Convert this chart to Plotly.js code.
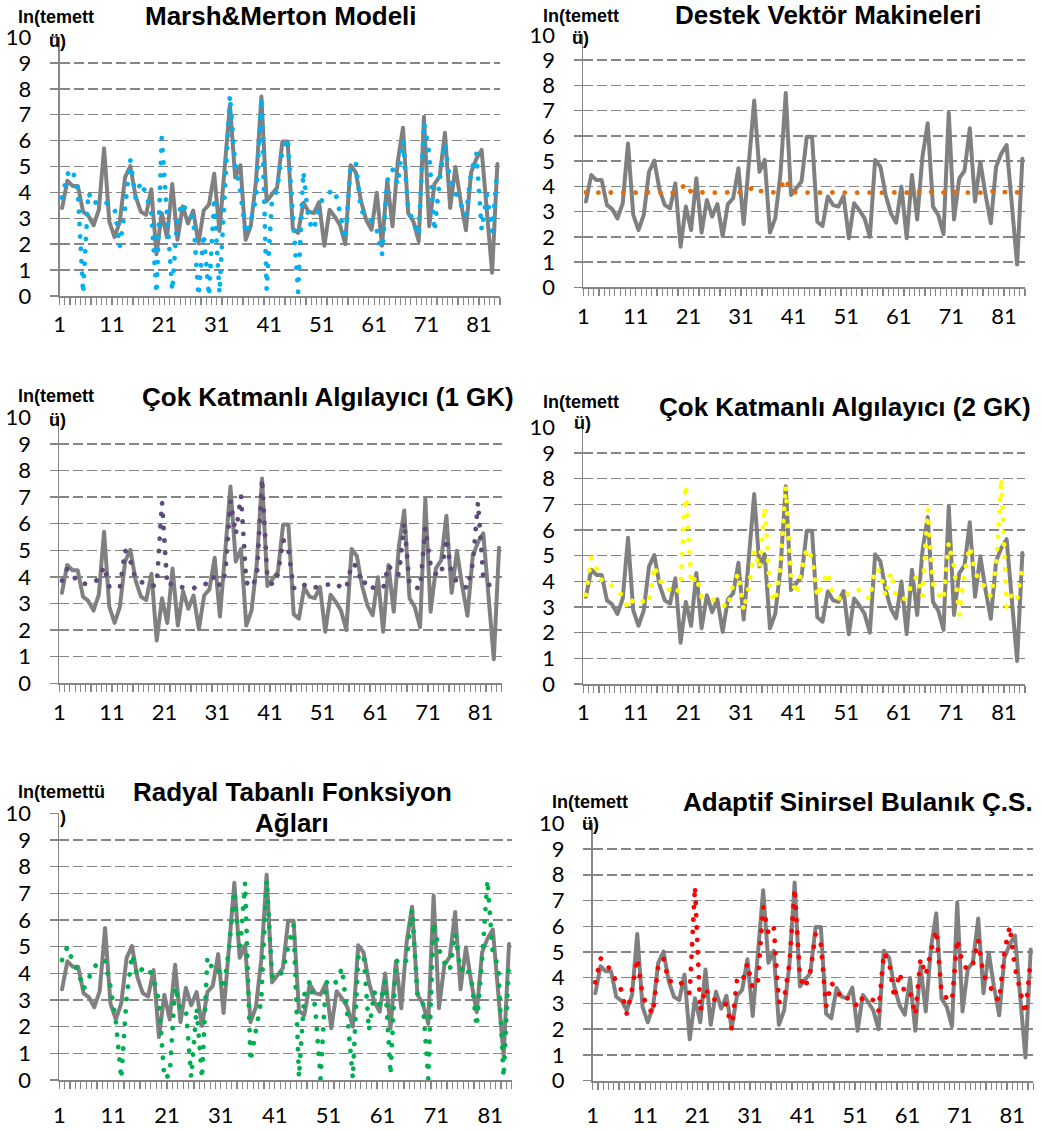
<!DOCTYPE html>
<html><head><meta charset="utf-8">
<script src="https://cdn.plot.ly/plotly-3.0.1.min.js"></script>
<style>
html,body{margin:0;padding:0;background:#fff;}
#chart{width:1041px;height:1130px;}
.scatterlayer .js-line{stroke-linecap:round;stroke-linejoin:round;}
</style></head><body><div id="chart"></div>
<script>
// Actual series ln(temettü), 84 observations
const actual = [3.4,4.45,4.25,4.25,3.26,3.1,2.73,3.33,5.7,2.87,
  2.27,2.87,4.58,5.02,3.86,3.26,3.13,4.12,1.61,3.2,
  2.27,4.32,2.17,3.46,2.8,3.3,2.03,3.3,3.53,4.72,
  2.51,4.9,7.4,4.58,5.05,2.17,2.73,4.5,7.7,3.66,
  3.92,4.19,5.97,5.97,2.6,2.43,3.6,3.26,3.2,3.62,
  1.94,3.33,3.06,2.73,2.0,5.05,4.78,3.66,2.93,2.56,
  3.99,1.94,4.45,2.69,5.18,6.5,3.2,2.87,2.11,6.92,
  2.69,4.32,4.62,6.3,3.4,4.98,3.66,2.54,4.78,5.3,
  5.64,3.4,0.9,5.1];

const marshMerton = [3.8,4.7,4.9,4.0,0.1,4.0,3.55,3.7,3.65,3.5,
  3.4,1.9,3.4,5.25,3.8,4.4,3.95,3.2,0.1,6.1,
  3.1,0.2,3.1,3.6,3.1,3.05,0.0,2.4,0.0,3.8,
  0.1,3.9,7.75,5.1,4.0,2.4,2.9,3.8,7.65,0.25,
  3.6,4.1,5.6,6.1,3.1,0.15,4.8,2.9,2.55,3.45,
  3.9,4.0,4.1,3.2,2.2,5.0,5.15,3.25,3.2,2.9,
  2.55,1.6,4.45,4.9,4.3,6.0,3.3,2.9,2.35,6.7,
  5.5,2.5,4.5,5.9,4.4,4.0,3.55,3.1,4.8,5.5,
  2.55,3.9,2.5,4.9];

const svm = [3.76,3.75,3.76,3.75,3.75,3.76,3.75,3.76,3.75,3.76,
  3.75,3.76,3.75,3.76,3.75,3.76,3.75,3.76,3.9,4.1,
  3.78,3.76,3.75,3.76,3.75,3.76,3.75,3.76,3.75,3.76,
  3.76,3.85,4.0,3.82,3.78,3.76,3.76,3.95,4.3,3.8,
  3.76,3.75,3.76,3.75,3.76,3.75,3.76,3.75,3.76,3.75,
  3.76,3.75,3.76,3.75,3.76,3.76,3.75,3.76,3.75,3.76,
  3.75,3.76,3.75,3.76,3.78,3.82,3.76,3.75,3.76,3.83,
  3.77,3.76,3.75,3.76,3.76,3.75,3.76,3.78,3.82,3.77,
  3.76,3.75,3.76,3.76];

const mlp1 = [3.86,4.3,4.1,3.8,3.75,3.73,3.8,3.92,4.4,3.63,
  3.6,3.6,5.0,4.6,3.9,3.8,3.75,3.65,3.7,6.8,
  3.66,3.76,3.65,3.6,3.6,3.57,3.7,3.75,3.7,4.05,
  3.66,4.1,6.85,5.6,7.05,3.8,3.6,4.0,7.7,4.0,
  3.7,4.1,5.4,5.0,3.57,3.75,3.7,3.57,3.6,3.66,
  3.7,3.72,3.76,3.6,3.56,4.5,4.4,3.7,3.86,3.6,
  3.6,3.57,4.45,4.1,4.1,6.05,3.7,3.6,3.57,5.85,
  4.45,4.1,4.05,5.45,4.1,3.82,3.7,3.57,4.5,6.8,
  4.0,3.7,3.7,3.85];

const mlp2 = [3.47,4.92,4.5,4.05,4.03,3.8,3.6,3.45,2.95,3.27,
  3.35,3.2,3.14,4.6,4.0,3.95,3.6,3.5,3.8,7.75,
  3.9,4.2,3.4,3.35,3.3,3.18,3.1,2.97,3.9,4.3,
  2.86,3.8,5.2,4.5,6.9,3.6,3.2,4.6,7.7,4.2,
  3.5,4.45,5.28,4.9,3.4,3.9,4.35,3.43,3.35,3.27,
  3.6,3.63,3.66,3.5,3.3,4.5,4.38,3.4,4.35,3.4,
  3.3,3.35,3.95,4.2,3.4,6.8,3.9,3.5,3.27,5.5,
  4.6,2.7,4.3,5.35,4.4,3.9,3.8,3.4,4.6,8.0,
  3.0,3.5,3.27,4.6];

const rbf = [4.5,5.0,4.45,4.06,3.4,3.8,4.25,4.4,4.5,3.5,
  2.2,0.05,3.1,4.7,3.9,4.2,4.2,3.8,2.95,0.05,
  0.2,3.5,2.65,2.65,0.1,2.7,0.06,4.6,4.15,4.2,
  3.4,4.9,7.1,4.8,7.4,0.7,1.9,3.0,7.5,3.9,
  3.8,4.1,5.0,5.8,0.1,3.2,3.7,2.75,0.05,3.7,
  3.5,3.7,4.2,2.4,0.06,4.6,4.75,1.85,3.3,2.8,
  3.7,0.2,4.5,4.3,4.5,6.4,3.2,2.9,0.05,5.9,
  4.9,4.4,4.1,5.5,4.1,4.3,3.8,2.0,4.5,7.5,
  4.7,4.3,0.1,4.5];

const anfis = [3.82,4.75,4.6,4.2,3.85,3.5,2.6,3.55,4.75,3.3,
  2.87,2.6,4.5,4.75,3.85,3.9,3.9,3.6,3.4,7.55,
  2.7,3.6,3.15,3.15,3.1,2.95,2.0,3.9,3.8,4.56,
  3.59,3.9,6.76,5.73,6.0,3.05,3.16,4.56,7.47,4.02,
  3.6,4.27,5.7,5.3,2.9,3.8,3.55,3.13,3.2,3.2,
  2.85,3.25,3.2,3.13,2.72,4.97,4.62,3.2,4.2,3.4,
  3.45,2.55,4.75,4.1,5.05,5.85,3.42,3.2,3.1,5.5,
  4.56,4.3,4.53,5.47,4.1,3.8,3.33,3.1,5.0,6.0,
  4.4,3.4,2.6,4.75];

const xTickVals = [1,11,21,31,41,51,61,71,81];
const xTickText = ['1','11','21','31','41','51','61','71','81'];
const yTickVals = [0,1,2,3,4,5,6,7,8,9,10];
const titles = [['Marsh&Merton Modeli'],['Destek Vektör Makineleri'],['Çok Katmanlı Algılayıcı (1 GK)'],
  ['Çok Katmanlı Algılayıcı (2 GK)'],['Radyal Tabanlı Fonksiyon','Ağları'],['Adaptif Sinirsel Bulanık Ç.S.']];
const yLabels = [['ln(temett','ü)'],['ln(temett','ü)'],['ln(temett','ü)'],['ln(temett','ü)'],['ln(temettü',')'],['ln(temett','ü)']];
const predicted = [marshMerton, svm, mlp1, mlp2, rbf, anfis];
const predColors = ['#00B0F0','#E46C0A','#604A7B','#FFFF00','#00B050','#FF0000'];

const obs = actual.map((_, i) => i + 1);
// tick marks sit on category boundaries (Excel style); the label of a boundary is
// the category just to its right, shifted by half a category so it is centred.
const catEdges = [0].concat(obs).map(v => v - 0.5 + 1);
const edgeText = catEdges.map(e => {
  const j = xTickVals.indexOf(e + 0.5);
  return j >= 0 ? xTickText[j] : '';
});

// layout geometry (pixels)
const W = 1041, H = 1130;
const boxes = [
  {x0:59.5, x1:500, y0:37, y1:296, xs:1,
   t:[[281,16.5]], l1:[16,17.5], l2:[47,41]},
  {x0:583.3, x1:1025, y0:35, y1:287.3, xs:1,
   t:[[828,15]], l1:[540.7,15.5], l2:[570,38]},
  {x0:59.3, x1:501.7, y0:417.3, y1:683.3, xs:1,
   t:[[328,396.5]], l1:[16,396], l2:[46.7,420]},
  {x0:583.3, x1:1025, y0:427.3, y1:684, xs:1,
   t:[[845,406.7]], l1:[540.7,401.7], l2:[571.7,423]},
  {x0:59.3, x1:511.7, y0:813.3, y1:1080, xs:8,
   t:[[292,791.7],[292,822.5]], l1:[16,791.7], l2:[58.3,816.7]},
  {x0:592.7, x1:1033.3, y0:823.3, y1:1080.7, xs:7,
   t:[[857.7,802]], l1:[550,801.7], l2:[580,824]}
];

const gridCol = '#868686';
const tickFont = {family:'Lato, "Open Sans", sans-serif', size:22, color:'#000'};
const data = [];
const layout = {
  width: W, height: H, margin:{l:0,r:0,t:0,b:0},
  paper_bgcolor:'#fff', plot_bgcolor:'#fff', showlegend:false,
  annotations: []
};

boxes.forEach((b, k) => {
  const n = k + 1;
  const xa = 'x' + (n === 1 ? '' : n), ya = 'y' + (n === 1 ? '' : n);
  const xk = 'xaxis' + (n === 1 ? '' : n), yk = 'yaxis' + (n === 1 ? '' : n);
  const halfCat = (b.x1 - b.x0) / obs.length / 2;
  data.push({x: obs, y: actual, xaxis: xa, yaxis: ya, type:'scatter', mode:'lines',
    line:{color:'#808080', width:4}, hoverinfo:'skip'});
  data.push({x: obs, y: predicted[k], xaxis: xa, yaxis: ya, type:'scatter', mode:'lines',
    line:{color: predColors[k], width:4.8, dash:'0.1px,12.3px'}, hoverinfo:'skip'});
  layout[xk] = {
    domain:[b.x0 / W, b.x1 / W], anchor: ya, range:[0.5, 84.5],
    tickmode:'array', tickvals: catEdges, ticktext: edgeText,
    ticks:'outside', ticklen:7, tickwidth:1.2, tickcolor:gridCol,
    showgrid:false, zeroline:false,
    showline:true, linecolor:gridCol, linewidth:1.8,
    tickfont: tickFont, ticklabelstandoff: b.xs, ticklabelshift: halfCat
  };
  layout[yk] = {
    domain:[1 - b.y1 / H, 1 - b.y0 / H], anchor: xa, range:[0, 10],
    tickmode:'array', tickvals: yTickVals,
    ticks:'outside', ticklen:8, tickwidth:1.5, tickcolor:gridCol,
    showgrid:true, gridcolor:gridCol, gridwidth:1.5, griddash:'10px,4px',
    zeroline:false, showline:true, linecolor:gridCol, linewidth:1.8,
    tickfont: tickFont, ticklabelstandoff: 14
  };
  titles[k].forEach((txt, j) => {
    layout.annotations.push({text:'<b>' + txt + '</b>', xref:'paper', yref:'paper',
      x: b.t[j][0] / W, y: 1 - b.t[j][1] / H, xanchor:'center', yanchor:'middle',
      showarrow:false, font:{family:'"Liberation Sans", Arial, sans-serif', size:26, color:'#000'}});
  });
  [b.l1, b.l2].forEach((p, j) => {
    layout.annotations.push({text:'<b>' + yLabels[k][j] + '</b>', xref:'paper', yref:'paper',
      x: p[0] / W, y: 1 - p[1] / H, xanchor:'left', yanchor:'middle',
      showarrow:false, font:{family:'"Liberation Sans", Arial, sans-serif', size:18, color:'#000'}});
  });
});

Plotly.newPlot('chart', data, layout, {staticPlot:true, displayModeBar:false});
</script></body></html>
